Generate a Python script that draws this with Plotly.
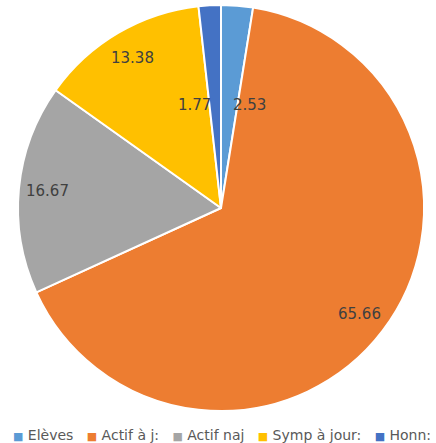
import math
import plotly.graph_objects as go

labels = ["Elèves", "Actif à j:", "Actif naj", "Symp à jour:", "Honn:"]
values = [2.53, 65.66, 16.67, 13.38, 1.77]
colors = ["#5B9BD5", "#ED7D31", "#A5A5A5", "#FFC000", "#4472C4"]

W, H = 436, 443
cx, cy, R = 221, 208, 203  # pie centre/radius in pixels

dom_x = [max(0, (cx - R) / W), min(1, (cx + R) / W)]
dom_y = [max(0, (H - cy - R) / H), min(1, (H - cy + R) / H)]

fig = go.Figure(go.Pie(
    labels=labels, values=values, sort=False, direction="clockwise", rotation=0,
    marker=dict(colors=colors, line=dict(color="white", width=2)),
    textinfo="none", hoverinfo="label+value",
    domain=dict(x=dom_x, y=dom_y),
))

total = sum(values)
annotations = []
cum = 0.0
for v in values:
    mid = (cum + v / 2) / total * 2 * math.pi
    cum += v
    small = v / total < 0.05
    r = 0.51 if small else 0.86
    px = cx + r * R * math.sin(mid)
    py = cy - r * R * math.cos(mid)
    if small:
        xanchor = "left" if math.sin(mid) > 0 else "right"
        px += 2 if math.sin(mid) > 0 else -2
    else:
        xanchor = "center"
    annotations.append(dict(
        x=px / W, y=1 - py / H, xref="paper", yref="paper",
        text=f"{v:.2f}", showarrow=False, xanchor=xanchor, yanchor="middle",
        font=dict(family="DejaVu Sans", size=15, color="#404040"),
    ))

# legend row drawn as text, built from the label / colour arrays
legend_text = "   ".join(
    f'<span style="color:{c};font-size:11px">■</span> {l}' for l, c in zip(labels, colors)
)
annotations.append(dict(
    x=222 / W, y=1 - 435 / H, xref="paper", yref="paper",
    text=legend_text, showarrow=False, xanchor="center", yanchor="middle",
    font=dict(family="DejaVu Sans", size=14, color="#595959"),
))

fig.update_layout(
    width=W, height=H, margin=dict(l=0, r=0, t=0, b=0),
    paper_bgcolor="white", plot_bgcolor="white",
    annotations=annotations,
    showlegend=False,
)
fig.write_html("out.html", config={"displayModeBar": False},
               post_script="document.body.style.margin='0px';document.body.style.overflow='hidden';")
